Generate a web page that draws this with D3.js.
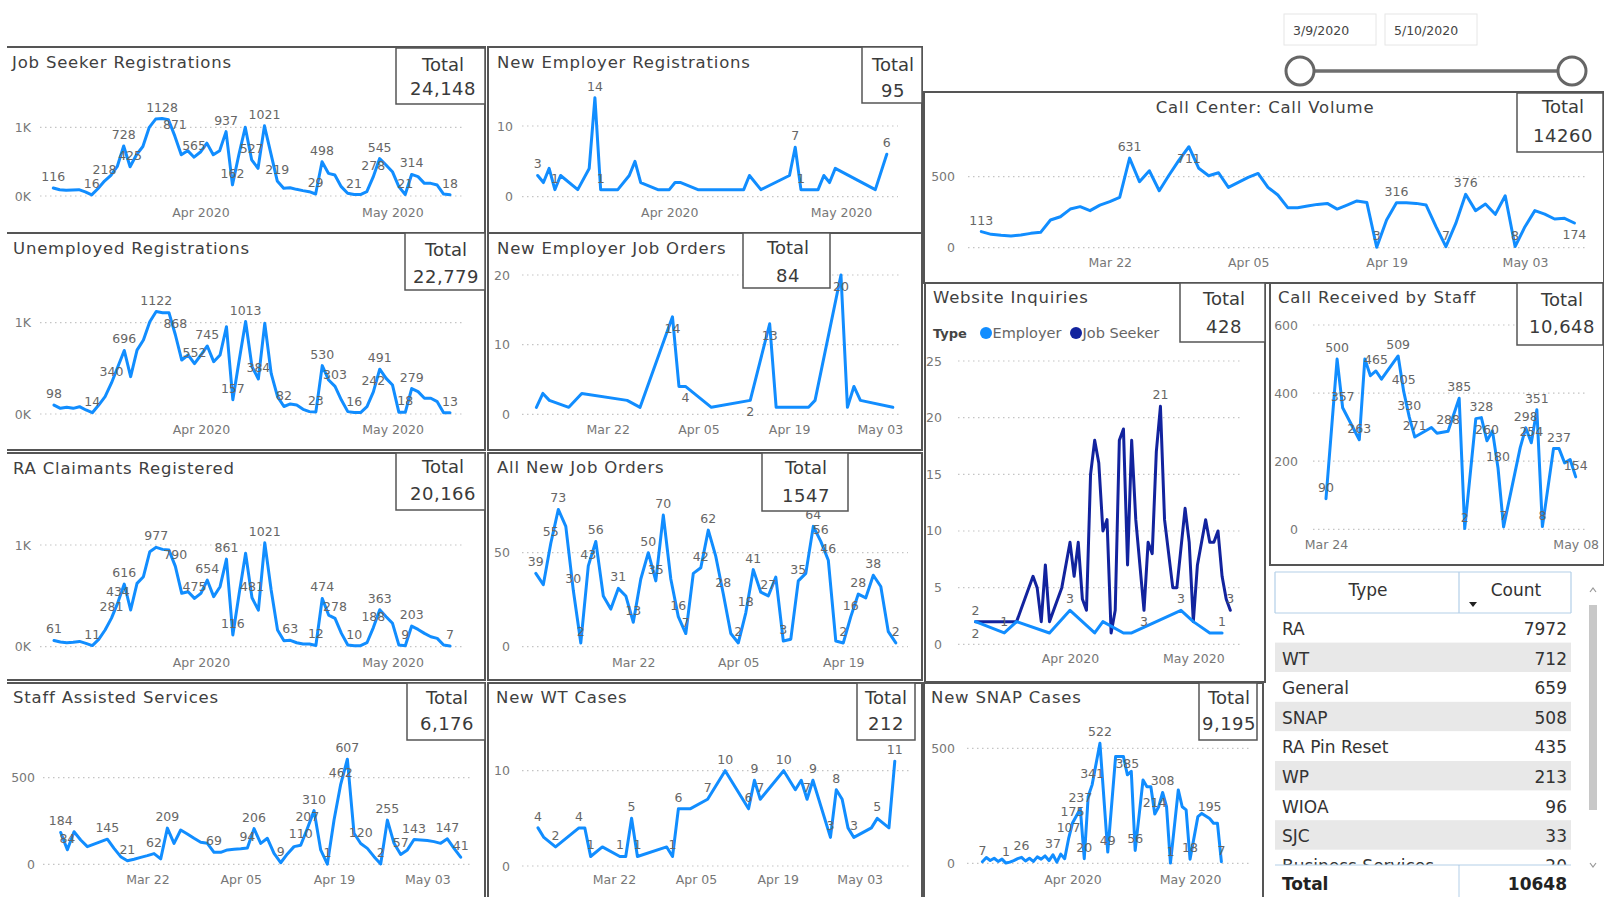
<!DOCTYPE html>
<html>
<head>
<meta charset="utf-8">
<script src="https://cdnjs.cloudflare.com/ajax/libs/d3/7.8.5/d3.min.js"></script>
<style>
  body { margin: 0; background: #fff; }
  svg text { font-family: "DejaVu Sans", sans-serif; }
</style>
</head>
<body>
<svg id="dash" width="1604" height="897"></svg>
<script>
// ---- data (day offsets are counted from each series' base date) ----
var jobSeekerValues = [116, 90, 85, 88, 92, 60, 16, 110, 218, 300, 430, 728, 425, 600, 720, 1000, 1120, 1128, 1110, 871,
  600, 660, 565, 640, 770, 600, 660, 937, 162, 600, 1000, 527, 403, 1021, 620, 219, 112, 121, 97, 78,
  63, 29, 498, 330, 306, 136, 39, 21, 21, 63, 278, 545, 451, 354, 136, 21, 314, 282, 184, 184, 160, 29, 18];
var jobSeekerLabelDays = [0, 6, 8, 11, 12, 17, 19, 22, 27, 28, 31, 33, 35, 41, 42, 47, 50, 51, 55, 56, 62];

var unemployedValues = [98, 62, 73, 62, 80, 44, 14, 98, 190, 340, 518, 696, 409, 700, 810, 1011, 1122, 1110, 1110, 868,
  591, 646, 552, 646, 745, 573, 646, 956, 157, 591, 1013, 518, 384, 993, 445, 190, 82, 110, 98, 51,
  26, 23, 530, 372, 303, 153, 26, 16, 16, 80, 242, 491, 390, 317, 18, 18, 279, 245, 172, 172, 135, 15, 13];
var unemployedLabelDays = [0, 6, 9, 11, 16, 19, 22, 24, 28, 30, 32, 36, 41, 42, 44, 47, 50, 51, 55, 56, 62];

var raClaimantValues = [61, 46, 39, 43, 52, 33, 11, 72, 164, 281, 434, 616, 361, 623, 688, 934, 977, 957, 950, 790,
  525, 541, 475, 525, 654, 492, 590, 861, 116, 525, 918, 481, 360, 1021, 557, 164, 59, 63, 39, 26,
  26, 12, 474, 311, 278, 131, 16, 10, 10, 39, 188, 363, 295, 230, 16, 9, 203, 170, 131, 98, 82, 16, 7];
var raClaimantLabelDays = [0, 6, 9, 10, 11, 16, 19, 22, 24, 27, 28, 31, 33, 37, 41, 42, 44, 47, 50, 51, 55, 56, 62];

var staffAssistedValues = [184, 84, 188, 140, 102, 117, 131, 145, 92, 44, 21, 29, 40, 50, 62, 31, 209, 121, 198, 175,
  150, 127, 121, 69, 69, 83, 87, 90, 94, 206, 121, 150, 63, 9, 60, 102, 110, 207, 310, 83,
  1, 256, 462, 607, 179, 120, 92, 44, 2, 255, 121, 57, 83, 143, 140, 137, 131, 121, 147, 92, 41];
var staffAssistedLabelDays = [0, 1, 7, 10, 14, 16, 23, 28, 29, 33, 36, 37, 38, 40, 42, 43, 45, 48, 49, 51, 53, 58, 60];

var newEmployerRegPairs = [[0, 3], [1, 2], [2, 4], [3, 1], [4, 3], [7, 1], [9, 4], [10, 14], [11, 1], [14, 1], [16, 3],
  [17, 5], [18, 2], [21, 1], [23, 1], [24, 2], [25, 2], [28, 1], [36, 1], [37, 3], [39, 1], [44, 3], [45, 7],
  [46, 1], [49, 1], [50, 3], [51, 2], [52, 4], [59, 1], [61, 6]];
var newEmployerRegLabelDays = [0, 3, 10, 11, 45, 46, 61];

var employerJobOrderPairs = [[2, 1], [3, 3], [4, 2], [7, 1], [9, 3], [16, 2], [18, 1], [23, 14], [24, 4], [25, 4],
  [29, 1], [35, 2], [38, 13], [39, 1], [44, 1], [45, 2], [49, 20], [50, 1], [51, 4], [52, 2], [57, 1]];
var employerJobOrderBelowDays = [23, 25, 35, 38, 49];

var allJobOrderValues = [39, 33, 55, 73, 64, 30, 2, 43, 56, 27, 20, 31, 27, 13, 36, 50, 35, 70, 36, 16,
  7, 39, 42, 62, 48, 28, 7, 2, 18, 41, 29, 27, 37, 3, 4, 35, 39, 64, 56, 46, 3, 2, 16, 28, 26, 38, 32, 8, 2];
var allJobOrderLabelDays = [0, 2, 3, 5, 6, 7, 8, 11, 13, 15, 16, 17, 19, 20, 22, 23, 25, 27, 28, 29, 31, 33, 35,
  37, 38, 39, 41, 42, 43, 45, 48];

var wtCasePairs = [[0, 4], [1, 3], [3, 2], [7, 4], [8, 4], [9, 1], [11, 2], [14, 1], [15, 1], [16, 5], [17, 1],
  [22, 2], [23, 1], [24, 6], [26, 6], [29, 7], [32, 10], [36, 6], [37, 9], [38, 7], [42, 10], [44, 8], [45, 9],
  [46, 7], [47, 9], [50, 3], [51, 8], [52, 7], [53, 4], [54, 3], [57, 4], [58, 5], [60, 4], [61, 11]];
var wtCaseLabelDays = [0, 3, 7, 9, 14, 16, 17, 23, 24, 29, 32, 36, 37, 38, 42, 46, 47, 50, 51, 54, 58, 61];

var snapPairs = [[0, 7], [1, 25], [2, 12], [3, 22], [4, 8], [5, 18], [6, 1], [7, 5], [8, 12], [9, 20], [10, 26],
  [11, 10], [12, 22], [13, 8], [14, 28], [15, 18], [16, 32], [17, 12], [18, 37], [19, 5], [20, 40], [21, 20],
  [22, 107], [23, 175], [25, 237], [26, 20], [27, 290], [28, 341], [30, 522], [32, 49], [34, 464], [36, 464],
  [37, 385], [38, 400], [39, 56], [41, 362], [42, 333], [43, 333], [44, 214], [45, 246], [46, 308], [47, 246],
  [48, 1], [50, 319], [51, 246], [52, 232], [53, 18], [55, 203], [56, 217], [58, 195], [59, 174], [60, 174], [61, 7]];
var snapLabelDays = [0, 6, 10, 18, 22, 23, 25, 26, 28, 30, 32, 37, 39, 44, 46, 48, 53, 58, 61];

var callVolumeValues = [113, 94, 87, 82, 89, 101, 108, 195, 218, 272, 289, 261, 300, 324, 354, 631, 465, 542, 401, 512,
  617, 711, 559, 507, 528, 425, 460, 495, 523, 425, 371, 282, 282, 293, 305, 312, 272, 300, 329, 319,
  3, 195, 316, 316, 312, 300, 148, 7, 171, 376, 261, 308, 235, 366, 8, 148, 261, 237, 202, 207, 174];
var callVolumeLabelDays = [0, 15, 40, 42, 47, 49, 54];
var callVolumeBelowDays = [21, 60];

var webEmployerPairs = [[0, 2], [7, 1], [10, 2], [18, 1], [23, 3], [29, 1], [31, 2], [36, 1], [38, 1], [50, 3],
  [53, 2], [57, 1], [60, 1]];
var webEmployerLabelDays = [7, 23, 50, 60];
var webEmployerBelowDays = [0];
var webJobSeekerPairs = [[0, 2], [10, 2], [11, 3], [14, 6], [15, 5], [16, 2], [17, 7], [18, 2], [21, 5], [23, 9],
  [24, 6], [25, 9], [26, 4], [27, 3], [28, 15], [29, 18], [30, 16], [31, 10], [32, 11], [33, 1], [34, 3], [35, 18],
  [36, 19], [37, 7], [38, 18], [39, 11], [41, 3], [42, 9], [43, 8], [44, 17], [45, 21], [46, 11], [48, 5], [49, 5],
  [51, 12], [52, 9], [53, 2], [54, 7], [56, 11], [57, 9], [58, 9], [59, 10], [60, 6], [61, 4], [62, 3]];
var webJobSeekerLabelDays = [0, 45, 62];
var webJobSeekerBelowDays = [41];
var webLegend = ["Employer", "Job Seeker"];

var staffCallPairs = [[0, 90], [2, 500], [3, 357], [6, 263], [7, 500], [8, 451], [9, 465], [10, 441], [13, 509],
  [14, 405], [15, 330], [16, 271], [19, 299], [20, 282], [22, 288], [24, 385], [25, 2], [27, 325], [28, 328],
  [29, 260], [30, 289], [31, 180], [32, 7], [35, 240], [36, 298], [37, 254], [38, 351], [39, 8], [41, 237],
  [42, 237], [43, 195], [44, 205], [45, 154]];
var staffCallLabelDays = [0, 2, 3, 6, 9, 13, 14, 15, 16, 22, 24, 25, 28, 29, 31, 32, 36, 37, 38, 39, 42, 45];

var tableTypes = ["RA", "WT", "General", "SNAP", "RA Pin Reset", "WP", "WIOA", "SJC", "Business Services"];
var tableCounts = [7972, 712, 659, 508, 435, 213, 96, 33, 20];
var tableTotal = 10648;

var sliderDates = ["3/9/2020", "5/10/2020"];
var monthTicks = ["2020-04-01", "2020-05-01"];
var weekTicks = ["2020-03-22", "2020-04-05", "2020-04-19", "2020-05-03"];

var BLUE = "#118DFF", NAVY = "#12239E";
var parse = d3.timeParse("%Y-%m-%d");
var svg = d3.select("#dash");

function pts(base, values) {
  return values.map(function (v, i) { return { day: i, d: d3.timeDay.offset(parse(base), i), v: v }; });
}
function spts(base, pairs) {
  return pairs.map(function (p) { return { day: p[0], d: d3.timeDay.offset(parse(base), p[0]), v: p[1] }; });
}
var kFmt = function (d) { return (d / 1000) + "K"; };
var nFmt = function (d) { return d; };

function drawPanel(p) {
  var g = svg.append("g");
  var b = p.box;
  var d = "M" + b[0] + "," + b[1] + "H" + b[2] + "V" + b[3] + "H" + b[0] + (p.noLeft ? "" : "Z");
  g.append("path").attr("d", d).attr("fill", "none").attr("stroke", "#555").attr("stroke-width", 2);

  var x = d3.scaleTime().domain(p.xDomain.map(parse)).range(p.xRange);
  var y = d3.scaleLinear().domain([0, p.yRef]).range([p.yZero, p.yRefPx]);

  g.selectAll("line.grid").data(p.yTicks).join("line").attr("class", "grid")
    .attr("x1", p.grid[0]).attr("x2", p.grid[1])
    .attr("y1", function (t) { return y(t); }).attr("y2", function (t) { return y(t); })
    .attr("stroke", "#c4c4c4").attr("stroke-width", 1.2).attr("stroke-dasharray", "1.5,3.5");

  var ya = g.append("g").attr("transform", "translate(" + p.yLabelX + ",0)")
    .call(d3.axisLeft(y).tickValues(p.yTicks).tickFormat(p.yFmt).tickSize(0).tickPadding(0));
  ya.select(".domain").remove();
  ya.attr("font-family", null).attr("font-size", null);
  ya.selectAll("text").attr("fill", "#777").style("font-size", "12.5px");

  var xa = g.append("g").attr("transform", "translate(0," + p.xLabelY + ")")
    .call(d3.axisBottom(x).tickValues(p.xTicks.map(parse)).tickFormat(d3.timeFormat(p.xFmt)).tickSize(0).tickPadding(0));
  xa.select(".domain").remove();
  xa.attr("font-family", null).attr("font-size", null);
  xa.selectAll("text").attr("y", 0).attr("dy", 0).attr("fill", "#777").style("font-size", "12.5px");

  var line = d3.line().x(function (q) { return x(q.d); }).y(function (q) { return y(q.v); });
  p.series.forEach(function (s) {
    g.append("path").datum(s.points).attr("d", line).attr("fill", "none")
      .attr("stroke", s.color).attr("stroke-width", 3).attr("stroke-linejoin", "round").attr("stroke-linecap", "round");
  });
  p.series.forEach(function (s) {
    var lab = s.points.filter(function (q) { return (s.labels || []).indexOf(q.day) >= 0; })
      .map(function (q) { return { q: q, below: false }; })
      .concat(s.points.filter(function (q) { return (s.below || []).indexOf(q.day) >= 0; })
        .map(function (q) { return { q: q, below: true }; }));
    g.selectAll(null).data(lab).join("text")
      .attr("x", function (l) { return x(l.q.d); })
      .attr("y", function (l) { return y(l.q.v) + (l.below ? 16 : -7); })
      .attr("text-anchor", "middle").attr("fill", "#666").style("font-size", "12.5px")
      .text(function (l) { return l.q.v; });
  });

  var t = p.totalBox;
  g.append("rect").attr("x", t[0]).attr("y", t[1]).attr("width", t[2]).attr("height", t[3])
    .attr("fill", "#fff").attr("stroke", "#555").attr("stroke-width", 1.5);
  g.append("text").attr("x", p.totalX).attr("y", p.totalY[0]).attr("text-anchor", "middle")
    .attr("fill", "#3a3a3a").style("font-size", "18px").text("Total");
  g.append("text").attr("x", p.totalX).attr("y", p.totalY[1]).attr("text-anchor", "middle")
    .attr("fill", "#3a3a3a").style("font-size", "18px").style("letter-spacing", "0.5px").text(p.total);

  g.append("text").attr("x", p.titleX).attr("y", p.titleY).attr("text-anchor", p.titleAnchor || "start")
    .attr("fill", "#404040").style("font-size", "16.5px").style("letter-spacing", "0.8px").text(p.title);
  return g;
}

var single = function (points, labels, below) { return [{ points: points, color: BLUE, labels: labels, below: below }]; };

drawPanel({ box: [7, 47, 485, 233], noLeft: true, title: "Job Seeker Registrations", titleX: 12, titleY: 68,
  totalBox: [396, 48, 89, 56], totalX: 443, totalY: [71, 95], total: "24,148",
  xDomain: ["2020-03-09", "2020-05-10"], xRange: [53.3, 450], yRef: 1000, yZero: 196, yRefPx: 127.3,
  yTicks: [0, 1000], yFmt: kFmt, yLabelX: 31, grid: [40, 462], xTicks: monthTicks, xFmt: "%b %Y", xLabelY: 217,
  series: single(pts("2020-03-09", jobSeekerValues), jobSeekerLabelDays) });

drawPanel({ box: [488, 47, 922, 233], title: "New Employer Registrations", titleX: 497, titleY: 68,
  totalBox: [862, 47, 60, 56], totalX: 893, totalY: [71, 97], total: "95",
  xDomain: ["2020-03-09", "2020-05-10"], xRange: [537.7, 892.5], yRef: 10, yZero: 196.7, yRefPx: 126,
  yTicks: [0, 10], yFmt: nFmt, yLabelX: 513, grid: [522, 898], xTicks: monthTicks, xFmt: "%b %Y", xLabelY: 217,
  series: single(spts("2020-03-09", newEmployerRegPairs), newEmployerRegLabelDays) });

drawPanel({ box: [924, 92, 1604, 283], title: "Call Center: Call Volume", titleX: 1265, titleY: 113, titleAnchor: "middle",
  totalBox: [1517, 93, 86, 59], totalX: 1563, totalY: [113, 142], total: "14260",
  xDomain: ["2020-03-09", "2020-05-08"], xRange: [981.3, 1574.4], yRef: 500, yZero: 247.7, yRefPx: 176.7,
  yTicks: [0, 500], yFmt: nFmt, yLabelX: 955, grid: [968, 1588], xTicks: weekTicks, xFmt: "%b %d", xLabelY: 267,
  series: single(pts("2020-03-09", callVolumeValues), callVolumeLabelDays, callVolumeBelowDays) });

drawPanel({ box: [7, 233, 485, 450], noLeft: true, title: "Unemployed Registrations", titleX: 13, titleY: 254,
  totalBox: [405, 233, 80, 57], totalX: 446, totalY: [256, 283], total: "22,779",
  xDomain: ["2020-03-09", "2020-05-10"], xRange: [54, 450], yRef: 1000, yZero: 414, yRefPx: 322.7,
  yTicks: [0, 1000], yFmt: kFmt, yLabelX: 31, grid: [40, 462], xTicks: monthTicks, xFmt: "%b %Y", xLabelY: 434,
  series: single(pts("2020-03-09", unemployedValues), unemployedLabelDays) });

drawPanel({ box: [488, 233, 922, 450], title: "New Employer Job Orders", titleX: 497, titleY: 254,
  totalBox: [743, 233, 87, 55], totalX: 788, totalY: [254, 282], total: "84",
  xDomain: ["2020-03-11", "2020-05-05"], xRange: [536.4, 892.8], yRef: 20, yZero: 414.3, yRefPx: 275,
  yTicks: [0, 10, 20], yFmt: nFmt, yLabelX: 510, grid: [522, 900], xTicks: weekTicks, xFmt: "%b %d", xLabelY: 434,
  series: single(spts("2020-03-09", employerJobOrderPairs), [], employerJobOrderBelowDays) });

var web = drawPanel({ box: [925, 283, 1265, 682], title: "Website Inquiries", titleX: 933, titleY: 303,
  totalBox: [1180, 283, 85, 59], totalX: 1224, totalY: [305, 333], total: "428",
  xDomain: ["2020-03-09", "2020-05-10"], xRange: [975.5, 1230.3], yRef: 25, yZero: 644.3, yRefPx: 361,
  yTicks: [0, 5, 10, 15, 20, 25], yFmt: nFmt, yLabelX: 942, grid: [958, 1243], xTicks: monthTicks, xFmt: "%b %Y", xLabelY: 663,
  series: [
    { points: spts("2020-03-09", webJobSeekerPairs), color: NAVY, labels: webJobSeekerLabelDays, below: webJobSeekerBelowDays },
    { points: spts("2020-03-09", webEmployerPairs), color: BLUE, labels: webEmployerLabelDays, below: webEmployerBelowDays }
  ] });
web.append("text").attr("x", 933).attr("y", 338).attr("fill", "#444").style("font-size", "13px")
  .style("font-weight", "bold").text("Type");
var legX = [986, 1076];
web.selectAll(null).data(webLegend).join("circle").attr("cx", function (d, i) { return legX[i]; }).attr("cy", 333)
  .attr("r", 6).attr("fill", function (d, i) { return i === 0 ? BLUE : NAVY; });
web.selectAll(null).data(webLegend).join("text").attr("x", function (d, i) { return legX[i] + 6.5; }).attr("y", 338)
  .attr("fill", "#666").style("font-size", "14.5px").text(function (d) { return d; });

drawPanel({ box: [1270, 283, 1604, 565], title: "Call Received by Staff", titleX: 1278, titleY: 303,
  totalBox: [1517, 283, 86, 62], totalX: 1562, totalY: [306, 333], total: "10,648",
  xDomain: ["2020-03-24", "2020-05-08"], xRange: [1326, 1575.7], yRef: 600, yZero: 529.3, yRefPx: 325,
  yTicks: [0, 200, 400, 600], yFmt: nFmt, yLabelX: 1298, grid: [1313, 1588], xTicks: ["2020-03-24", "2020-05-08"],
  xFmt: "%b %d", xLabelY: 549,
  series: single(spts("2020-03-24", staffCallPairs), staffCallLabelDays) });

drawPanel({ box: [7, 453, 485, 680], noLeft: true, title: "RA Claimants Registered", titleX: 13, titleY: 474,
  totalBox: [396, 453, 89, 57], totalX: 443, totalY: [473, 500], total: "20,166",
  xDomain: ["2020-03-09", "2020-05-10"], xRange: [54, 450], yRef: 1000, yZero: 646.7, yRefPx: 545,
  yTicks: [0, 1000], yFmt: kFmt, yLabelX: 31, grid: [40, 462], xTicks: monthTicks, xFmt: "%b %Y", xLabelY: 667,
  series: single(pts("2020-03-09", raClaimantValues), raClaimantLabelDays) });

drawPanel({ box: [488, 453, 922, 680], title: "All New Job Orders", titleX: 497, titleY: 473,
  totalBox: [762, 453, 86, 58], totalX: 806, totalY: [474, 502], total: "1547",
  xDomain: ["2020-03-09", "2020-04-26"], xRange: [535.8, 895.8], yRef: 50, yZero: 646.7, yRefPx: 552.7,
  yTicks: [0, 50], yFmt: nFmt, yLabelX: 510, grid: [522, 908], xTicks: weekTicks.slice(0, 3), xFmt: "%b %d", xLabelY: 667,
  series: single(pts("2020-03-09", allJobOrderValues), allJobOrderLabelDays) });

drawPanel({ box: [7, 683, 485, 899], noLeft: true, title: "Staff Assisted Services", titleX: 13, titleY: 703,
  totalBox: [407, 683, 78, 57], totalX: 447, totalY: [704, 730], total: "6,176",
  xDomain: ["2020-03-09", "2020-05-08"], xRange: [60.7, 460.7], yRef: 500, yZero: 864.3, yRefPx: 777.7,
  yTicks: [0, 500], yFmt: nFmt, yLabelX: 35, grid: [43, 470], xTicks: weekTicks, xFmt: "%b %d", xLabelY: 884,
  series: single(pts("2020-03-09", staffAssistedValues), staffAssistedLabelDays) });

drawPanel({ box: [488, 683, 922, 899], title: "New WT Cases", titleX: 496, titleY: 703,
  totalBox: [857, 683, 58, 57], totalX: 886, totalY: [704, 730], total: "212",
  xDomain: ["2020-03-09", "2020-05-09"], xRange: [538, 894.8], yRef: 10, yZero: 866, yRefPx: 770.7,
  yTicks: [0, 10], yFmt: nFmt, yLabelX: 510, grid: [522, 910], xTicks: weekTicks, xFmt: "%b %d", xLabelY: 884,
  series: single(spts("2020-03-09", wtCasePairs), wtCaseLabelDays) });

drawPanel({ box: [924, 683, 1263, 899], title: "New SNAP Cases", titleX: 931, titleY: 703,
  totalBox: [1199, 683, 58, 57], totalX: 1229, totalY: [704, 730], total: "9,195",
  xDomain: ["2020-03-09", "2020-05-10"], xRange: [982.4, 1225.3], yRef: 500, yZero: 863.3, yRefPx: 748.3,
  yTicks: [0, 500], yFmt: nFmt, yLabelX: 955, grid: [967, 1250], xTicks: monthTicks, xFmt: "%b %Y", xLabelY: 884,
  series: single(spts("2020-03-09", snapPairs), snapLabelDays) });

// ---- date range slicer ----
var sl = svg.append("g");
sl.selectAll(null).data(sliderDates).join("rect").attr("x", function (d, i) { return 1284 + i * 101; }).attr("y", 14)
  .attr("width", 92).attr("height", 31).attr("fill", "#fff").attr("stroke", "#e6e6e6");
sl.selectAll(null).data(sliderDates).join("text").attr("x", function (d, i) { return 1293 + i * 101; }).attr("y", 35)
  .attr("fill", "#444").style("font-size", "12.5px").text(function (d) { return d; });
sl.append("line").attr("x1", 1300).attr("x2", 1572).attr("y1", 71).attr("y2", 71).attr("stroke", "#6e6e6e").attr("stroke-width", 3.5);
sl.selectAll(null).data([1300, 1572]).join("circle").attr("cx", function (d) { return d; }).attr("cy", 71).attr("r", 14)
  .attr("fill", "#fff").attr("stroke", "#666").attr("stroke-width", 3);

// ---- type / count table ----
var tb = svg.append("g");
var tx0 = 1275, tx1 = 1459, tx2 = 1571, rowH = 29.6, bodyTop = 613;
tb.append("clipPath").attr("id", "tbclip").append("rect").attr("x", tx0).attr("y", bodyTop).attr("width", tx2 - tx0).attr("height", 252);
var body = tb.append("g").attr("clip-path", "url(#tbclip)");
var rows = body.selectAll("g").data(tableTypes).join("g")
  .attr("transform", function (d, i) { return "translate(0," + (bodyTop + i * rowH) + ")"; });
rows.append("rect").attr("x", tx0).attr("width", tx2 - tx0).attr("height", rowH)
  .attr("fill", function (d, i) { return i % 2 ? "#e8e8e8" : "#fff"; });
rows.append("text").attr("x", 1282).attr("y", 22).attr("fill", "#333").style("font-size", "17px").text(function (d) { return d; });
rows.append("text").attr("x", 1567).attr("y", 22).attr("text-anchor", "end").attr("fill", "#333").style("font-size", "17px")
  .text(function (d, i) { return tableCounts[i]; });
var hdr = "#b3cfe8";
tb.append("path").attr("d", "M" + tx0 + ",572H" + tx2 + "M" + tx0 + ",613H" + tx2 + "M" + tx0 + ",572V613M" + tx1 + ",572V613M" + tx2 + ",572V613")
  .attr("fill", "none").attr("stroke", hdr).attr("stroke-width", 1.2);
tb.append("text").attr("x", 1368).attr("y", 596).attr("text-anchor", "middle").attr("fill", "#333").style("font-size", "17px").text("Type");
tb.append("text").attr("x", 1516).attr("y", 596).attr("text-anchor", "middle").attr("fill", "#333").style("font-size", "17px").text("Count");
tb.append("path").attr("d", "M1469,602L1477,602L1473,607Z").attr("fill", "#222");
tb.append("path").attr("d", "M" + tx0 + ",865H" + tx2 + "M" + tx1 + ",865V897").attr("fill", "none").attr("stroke", hdr).attr("stroke-width", 1.2);
tb.append("rect").attr("x", tx0).attr("y", 866).attr("width", tx2 - tx0).attr("height", 31).attr("fill", "#fff");
tb.append("line").attr("x1", tx1).attr("x2", tx1).attr("y1", 866).attr("y2", 897).attr("stroke", hdr);
tb.append("text").attr("x", 1282).attr("y", 890).attr("fill", "#222").style("font-size", "17px").style("font-weight", "bold").text("Total");
tb.append("text").attr("x", 1567).attr("y", 890).attr("text-anchor", "end").attr("fill", "#222").style("font-size", "17px")
  .style("font-weight", "bold").text(tableTotal);
tb.append("rect").attr("x", 1589).attr("y", 605).attr("width", 8).attr("height", 205).attr("fill", "#c8c8c8");
tb.append("path").attr("d", "M1590,592L1593,588L1596,592M1590,863L1593,867L1596,863").attr("fill", "none").attr("stroke", "#999").attr("stroke-width", 1.2);
</script>
</body>
</html>
